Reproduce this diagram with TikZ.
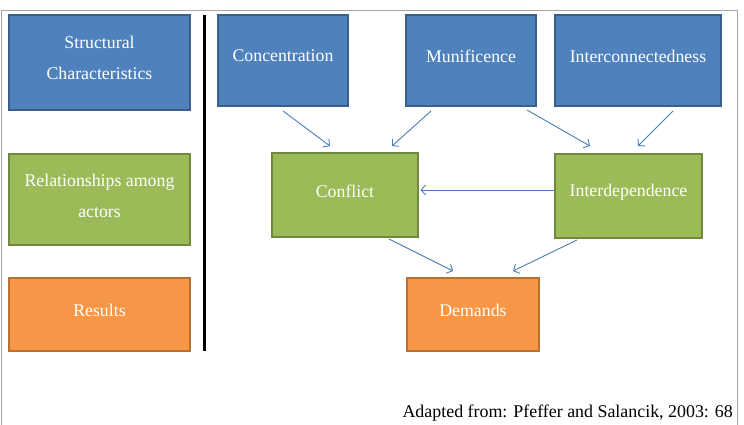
\documentclass[tikz,border=0pt]{standalone}
\usepackage{fontspec}
\setmainfont{Liberation Serif}
\usetikzlibrary{arrows.meta,calc}
\definecolor{bfill}{HTML}{4F81BD}
\definecolor{bline}{HTML}{3A5F8B}
\definecolor{gfill}{HTML}{9BBB59}
\definecolor{gline}{HTML}{71893F}
\definecolor{ofill}{HTML}{F79646}
\definecolor{oline}{HTML}{B9712F}
\definecolor{arrc}{HTML}{4A7EBB}
\definecolor{framec}{HTML}{A6A6A6}
\tikzset{
  box/.style={rectangle, line width=2.4pt, inner sep=0pt},
  bluebox/.style={box, draw=bline, fill=bfill},
  greenbox/.style={box, draw=gline, fill=gfill},
  orangebox/.style={box, draw=oline, fill=ofill},
  boxtext/.style={text=white, align=center, inner sep=0pt,
    font=\fontsize{17.8pt}{31pt}\selectfont},
  arr/.style={draw=arrc, line width=0.9pt, -{Straight Barb[length=4.5pt,width=10pt]}},
}
\newcommand{\mybox}[6]{%
  \node[#1, minimum width={#4-#2-2.4pt}, minimum height={#5-#3-2.4pt}]
    (#6) at ({(#2+#4)/2}, {-(#3+#5)/2}) {};}
\begin{document}
\begin{tikzpicture}[x=1pt,y=1pt]
\useasboundingbox (0,0) rectangle (744,-425);
% frame
\draw[framec, line width=1pt] (1,-426) -- (1,-10.5) -- (737,-10.5) -- (737,-426);
% divider
\draw[black, line width=3pt] (204,-15) -- (204,-351);
% boxes
\mybox{bluebox}{8}{14}{191}{111}{struct}
\mybox{greenbox}{8}{153}{191}{246}{rel}
\mybox{orangebox}{8}{277}{191}{352}{res}
\mybox{bluebox}{217}{14}{349}{107}{conc}
\mybox{bluebox}{405}{14}{537}{107}{muni}
\mybox{bluebox}{554}{14}{722}{107}{inter}
\mybox{greenbox}{271}{152}{419}{238}{confl}
\mybox{greenbox}{554}{153}{703}{239}{interd}
\mybox{orangebox}{406}{277}{540}{352}{dem}
% texts
\node[boxtext] (tstruct) at ([yshift=4.5pt]struct.center) {Structural\\Characteristics};
\node[boxtext] (trel) at ([yshift=3.5pt]rel.center) {Relationships among\\actors};
\node[boxtext] (tres) at ([yshift=4.5pt]res.center) {Results};
\node[boxtext] (tconc) at ([yshift=4.5pt]conc.center) {Concentration};
\node[boxtext] (tmuni) at ([yshift=4.5pt]muni.center) {Munificence};
\node[boxtext] (tinter) at ([yshift=4.5pt]inter.center) {Interconnectedness};
\node[boxtext] (tconfl) at ([yshift=4pt]confl.center) {Conflict};
\node[boxtext] (tinterd) at ([yshift=4pt]interd.center) {Interdependence};
\node[boxtext] (tdem) at ([yshift=4.5pt]dem.center) {Demands};
% arrows
\draw[arr] ([yshift=-4pt]conc.south) -- ([xshift=-15pt,yshift=6pt]confl.north);
\draw[arr] ([xshift=-40pt,yshift=-4pt]muni.south) -- ([xshift=47pt,yshift=6pt]confl.north);
\draw[arr] ([xshift=56pt,yshift=-3pt]muni.south) -- ([xshift=-38.5pt,yshift=7pt]interd.north);
\draw[arr] ([xshift=35pt,yshift=-4pt]inter.south) -- ([xshift=9.5pt,yshift=7pt]interd.north);
\draw[arr] ([yshift=6pt]interd.west) -- ([xshift=1.5pt,yshift=5pt]confl.east);
\draw[arr] ([xshift=44pt,yshift=-1pt]confl.south) -- ([xshift=-20pt,yshift=6pt]dem.north);
\draw[arr] ([xshift=-51.5pt,yshift=-1pt]interd.south) -- ([xshift=40pt,yshift=6pt]dem.north);
% source
\node[anchor=base east, inner sep=0pt, font=\fontsize{17.9pt}{22pt}\selectfont] (src) at (733,-417) {Adapted from: Pfeffer and Salancik, 2003: 68};
\end{tikzpicture}
\end{document}
